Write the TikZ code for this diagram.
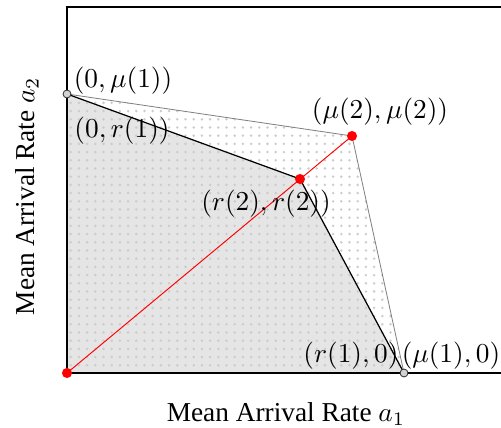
\documentclass[tikz,border=0pt]{standalone}
\usepackage{fontspec}
\setmainfont{Liberation Serif}

\begin{document}
\begin{tikzpicture}[
    x=0.366pt, y=-0.366pt,
    hollow/.style={circle, draw=black!80, fill=gray!35, inner sep=0pt, minimum size=2.9pt, line width=0.3pt},
    rdot/.style={circle, fill=red, inner sep=0pt, minimum size=3.7pt},
    lbl/.style={inner sep=0pt},
    griddot/.style={fill=gray!40}
]
\useasboundingbox (0,0) rectangle (501,428);

% Corners of the plot box
\coordinate (o) at (67,373);
\coordinate (tl) at (67,7);
\coordinate (tr) at (501,7);
\coordinate (br) at (501,373);

% Points of the regions
\coordinate (m1y) at (67,94);
\coordinate (m2) at (352,136);
\coordinate (r2) at (300,179);
\coordinate (m1x) at (404,373);

% Regions
\fill[gray!20] (o) -- (m1y) -- (r2) -- (m1x) -- cycle;
\begin{scope}
  \clip (o) -- (m1y) -- (m2) -- (m1x) -- cycle;
  \foreach \i in {0,...,42}
    \foreach \j in {0,...,35}
      \fill[griddot] (70.7+8.2*\i, 365.3-8.2*\j) circle[radius=1.4];
\end{scope}
\draw[gray, line width=0.3pt] (m1y) -- (m2) -- (m1x);
\draw[black, line width=0.45pt] (m1y) -- (r2) -- (m1x);

% Axes
\draw[line width=0.45pt] (br) -- (o) -- (tl) -- (tr);

% Diagonal
\draw[red, line width=0.35pt] (o) -- (m2);

% Markers
\node[rdot] (po) at (o) {};
\node[rdot] (pm2) at (m2) {};
\node[rdot] (pr2) at (r2) {};
\node[hollow] (pm1y) at (m1y) {};
\node[hollow] (pm1x) at (m1x) {};

% Labels
\node[lbl] (lm1y) at (123,81) {$(0,\mu(1))$};
\node[lbl] (lr1y) at (122,131) {$(0,r(1))$};
\node[lbl] (lm2) at (380,112) {$(\mu(2),\mu(2))$};
\node[lbl] (lr2) at (266,204) {$(r(2),r(2))$};
\node[lbl] (lr1x) at (351,356) {$(r(1),0)$};
\node[lbl] (lm1x) at (451,356) {$(\mu(1),0)$};

% Axis titles
\node[lbl] (xlab) at (286,414) {Mean Arrival Rate $a_1$};
\node[lbl, rotate=90] (ylab) at (27,196) {Mean Arrival Rate $a_2$};
\end{tikzpicture}
\end{document}
